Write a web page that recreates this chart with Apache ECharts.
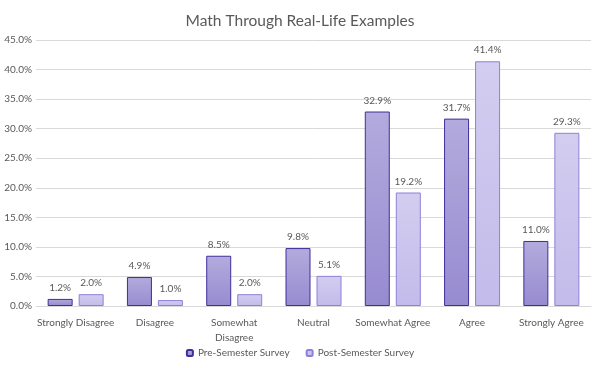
<!DOCTYPE html>
<html><head><meta charset="utf-8">
<script src="https://cdn.jsdelivr.net/npm/echarts@6/dist/echarts.min.js"></script>
<style>html,body{margin:0;padding:0;background:#fff}#c{width:600px;height:368px}</style>
</head><body><div id="c"></div>
<script>
const categories = ['Strongly Disagree','Disagree','Somewhat\nDisagree','Neutral','Somewhat Agree','Agree','Strongly Agree'];
const preSemester = [1.2, 4.9, 8.5, 9.8, 32.9, 31.7, 11.0];
const postSemester = [2.0, 1.0, 2.0, 5.1, 19.2, 41.4, 29.3];
const seriesNames = ['Pre-Semester Survey', 'Post-Semester Survey'];
const yTicks = {min: 0, max: 45, interval: 5};

const FONT = 'Lato, "Open Sans", sans-serif';
const grad = (top, bottom) => new echarts.graphic.LinearGradient(0, 0, 0, 1, [{offset: 0, color: top}, {offset: 1, color: bottom}]);
const lbl = {show: true, position: 'top', distance: 6, color: '#595959', fontSize: 10, fontFamily: FONT, formatter: p => p.value.toFixed(1) + '%'};

const chart = echarts.init(document.getElementById('c'), null, {renderer: 'canvas'});
chart.setOption({
  animation: false,
  title: {text: 'Math Through Real-Life Examples', left: 'center', top: 8,
    textStyle: {fontFamily: FONT, fontSize: 15.5, fontWeight: 'normal', color: '#595959'}},
  grid: {left: 36, right: 9, top: 40, bottom: 62, containLabel: false},
  legend: {bottom: 5, left: 'center', itemWidth: 6, itemHeight: 6, itemGap: 16,
    textStyle: {fontFamily: FONT, fontSize: 10, color: '#595959'},
    data: seriesNames},
  xAxis: {type: 'category', data: categories,
    axisLine: {lineStyle: {color: '#d9d9d9'}}, axisTick: {show: false},
    axisLabel: {color: '#595959', fontSize: 10, fontFamily: FONT, margin: 9, lineHeight: 15, interval: 0}},
  yAxis: {type: 'value', min: yTicks.min, max: yTicks.max, interval: yTicks.interval,
    axisLine: {show: false}, axisTick: {show: false},
    splitLine: {lineStyle: {color: '#d9d9d9'}},
    axisLabel: {color: '#595959', fontSize: 10, fontFamily: FONT, margin: 4, formatter: v => v.toFixed(1) + '%'}},
  series: [
    {name: seriesNames[0], type: 'bar', data: preSemester, barWidth: 25, barGap: '24%',
      itemStyle: {color: grad('#b3abdd', '#978bd0'), borderColor: '#3f2f9c', borderWidth: 1}, label: lbl},
    {name: seriesNames[1], type: 'bar', data: postSemester, barWidth: 25,
      itemStyle: {color: grad('#d3cdf0', '#c3bbea'), borderColor: '#8e80d8', borderWidth: 1}, label: lbl}
  ]
});
</script></body></html>
